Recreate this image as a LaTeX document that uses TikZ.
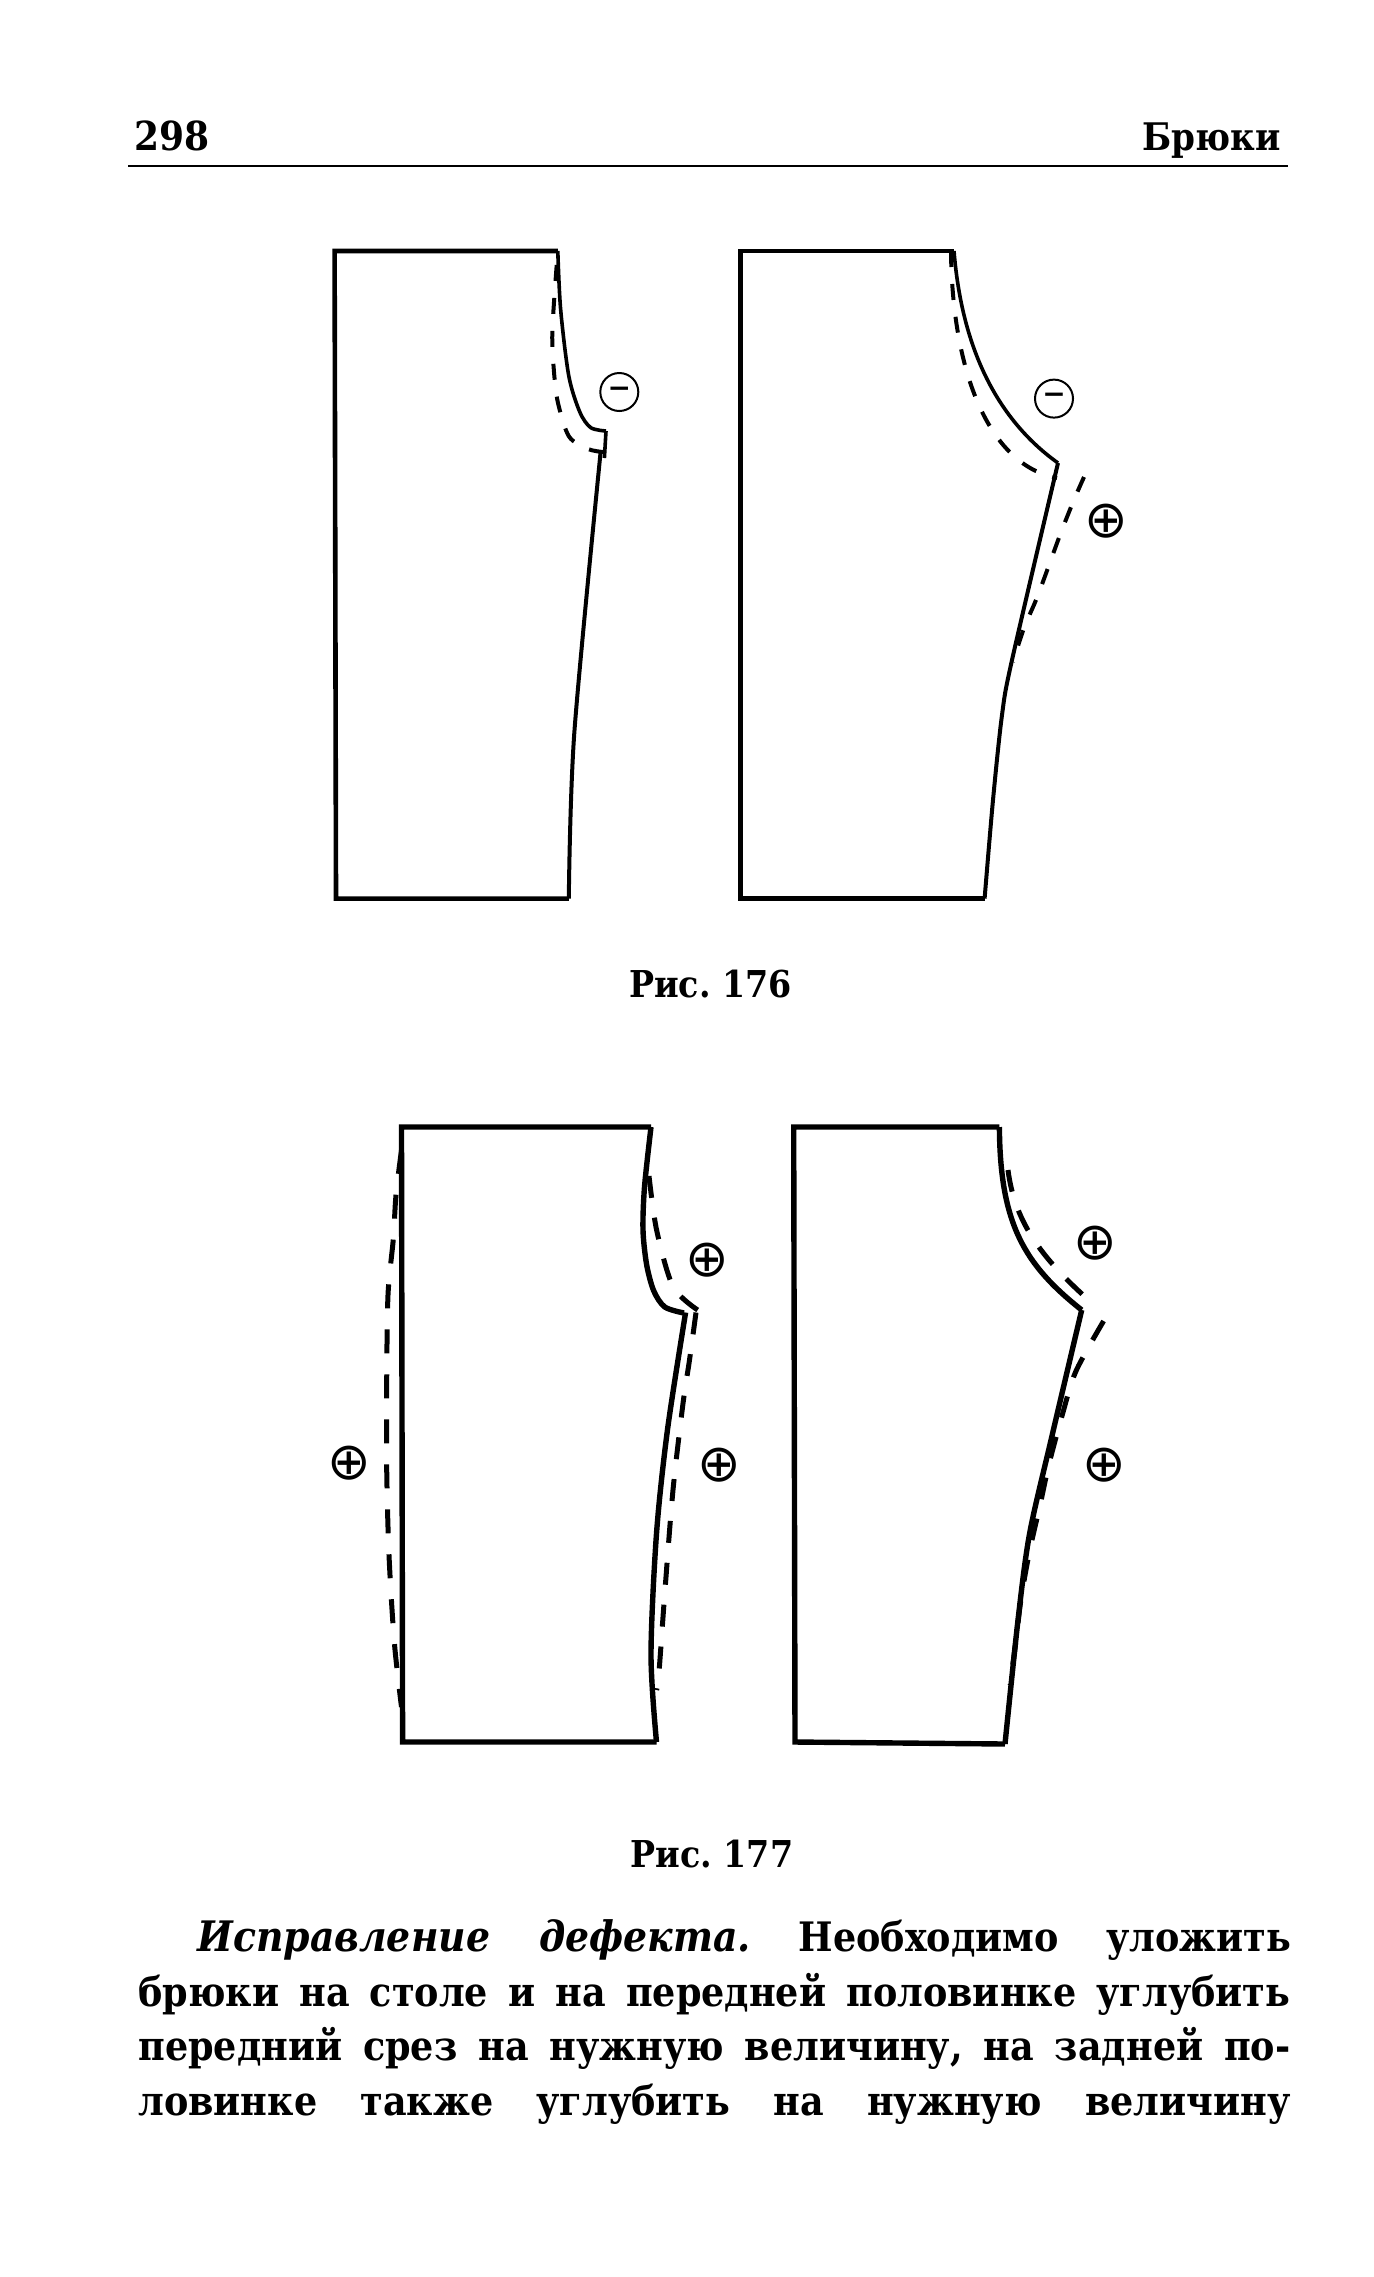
\documentclass[tikz,border=0pt]{standalone}
\usepackage{fontspec}
\setmainfont{DejaVu Serif Condensed}
\newfontfamily\symfont{DejaVu Sans}
\frenchspacing
\tikzset{
  outline/.style={line width=2.3pt,line join=miter,black},
  seam/.style={line width=1.8pt,black},
  heavy/.style={line width=2.7pt,line join=miter,black},
  dashA/.style={line width=2pt,black,dash pattern=on 8pt off 8.5pt},
  dashC/.style={line width=2.5pt,black,dash pattern=on 12pt off 10.5pt},
  dashD/.style={line width=2.5pt,black,dash pattern=on 11pt off 10pt},
  mark minus/.style={circle,draw,line width=1pt,inner sep=0pt,minimum size=19pt,font=\symfont\fontsize{14}{14}\selectfont\bfseries},
  mark plus/.style={inner sep=0pt,font=\symfont\fontsize{26}{26}\selectfont},
  txt/.style={anchor=base west,inner sep=0pt,font=\fontsize{20.3}{25}\selectfont\bfseries},
  cap text/.style={inner sep=0pt,anchor=base,font=\fontsize{18.5}{22}\selectfont\bfseries}
}
\begin{document}
\begin{tikzpicture}[x=0.5pt,y=-0.5pt]
\useasboundingbox (0,0) rectangle (1373,2277);
\fill[white] (0,0) rectangle (1373,2277);
% header
\node[cap text,anchor=base west,font=\fontsize{20}{24}\selectfont\bfseries] (pg) at (134,150) {298};
\node[cap text,anchor=base east,font=\fontsize{19}{22}\selectfont\bfseries] (hd) at (1281,150) {Брюки};
\coordinate (ruleL) at (128,165.5);
\coordinate (ruleR) at (1288,165.5);
\draw[line width=1pt] (ruleL) -- (ruleR);
% pattern A
\draw[outline] (557.8,251) -- (334.6,251) -- (336,898.6) -- (568.8,898.6);
\draw[outline,line width=2pt] plot[smooth] coordinates {(568.8,898.6) (574.3,733) (600.6,452)};
\draw[seam] plot[smooth] coordinates {(557.8,251) (560.6,309) (568.8,376) (579.8,412) (590.7,427.6) (606,431)};
\draw[seam] (606,431) -- (604.4,458);
\draw[dashA] plot[smooth] coordinates {(556.7,265) (552.3,332) (554,372) (558,403) (569,436.5) (588,449) (603,452)};
\node[mark minus] (a1) at (619.3,392) {−};
% pattern B
\draw[outline] (954,251) -- (740.5,251) -- (740.5,898.6) -- (984.6,898.6);
\draw[outline,line width=2pt] plot[smooth] coordinates {(984.6,898.6) (993,800) (1002,715) (1012,660) (1058,463)};
\draw[seam] (954,251) .. controls (962,350) and (998,420) .. (1058,463);
\draw[dashA] (951,251) .. controls (952,370) and (988,465) .. (1057,478);
\draw[dashA] plot[smooth] coordinates {(1084,477) (1073.5,501) (1060,535) (1038,595) (1024,628) (1013,662)};
\node[mark minus] (b1) at (1054,398.6) {−};
\node[mark plus] (b2) at (1106.4,521) {⊕};
% pattern C
\draw[heavy] (651,1127) -- (401.5,1127) -- (402.6,1742) -- (656.5,1742);
\draw[heavy] plot[smooth] coordinates {(656.5,1742) (651,1655) (656.5,1533.6) (667.5,1429.6) (685.6,1312.5)};
\draw[heavy] plot[smooth] coordinates {(651,1127) (644.5,1187) (643,1230) (646.7,1265) (653.8,1291) (664.8,1307) (684,1313)};
\draw[dashC] plot[smooth] coordinates {(401.5,1150) (396,1195) (393.3,1239) (388,1295) (386.7,1382) (386.7,1469) (389,1555) (394.3,1642) (401.5,1707)};
\draw[dashD] plot[smooth] coordinates {(649,1176) (656.6,1230) (673,1286.5) (697.7,1310)};
\draw[dashD] plot[smooth] coordinates {(696,1312.5) (689.5,1360) (683,1403.5) (673,1490) (665,1590) (659,1672) (656.6,1690)};
\node[mark plus] (c1) at (707,1260) {⊕};
\node[mark plus] (c2) at (349.4,1463) {⊕};
\node[mark plus] (c3) at (719.6,1465.6) {⊕};
% pattern D
\draw[heavy] (999.4,1127) -- (793.7,1127) -- (795,1742) -- (1005,1744);
\draw[heavy] plot[smooth] coordinates {(1005,1744) (1018,1620) (1029.6,1533.6) (1051.5,1438) (1081.7,1310)};
\draw[heavy] (999.4,1127) .. controls (1000,1225) and (1025,1265) .. (1081.7,1310);
\draw[dashD] (1008,1170) .. controls (1015,1225) and (1045,1262) .. (1095.4,1306);
\draw[dashD] plot[smooth] coordinates {(1103.6,1321) (1076,1371) (1062.5,1414) (1049,1464) (1040.5,1503) (1029.6,1551) (1021,1599) (1015.8,1642) (1010,1685)};
\node[mark plus] (d1) at (1095.4,1243) {⊕};
\node[mark plus] (d2) at (1104.7,1465) {⊕};
% captions
\node[cap text] (f176) at (710.5,997) {Рис. 176};
\node[cap text] (f177) at (712,1867) {Рис. 177};
% body text
\node[txt] (l1) at (197,1951.6) {\makebox[547pt][s]{\textit{\fontsize{21}{25}\selectfont Исправление дефекта.} Необходимо уложить}};
\node[txt] (l2) at (138,2006.7) {\makebox[576pt][s]{брюки на столе и на передней половинке углубить}};
\node[txt] (l3) at (138,2060.5) {\makebox[576pt][s]{передний срез на нужную величину, на задней по-}};
\node[txt] (l4) at (138,2115.6) {\makebox[576pt][s]{ловинке также углубить на нужную величину}};
\end{tikzpicture}
\end{document}
